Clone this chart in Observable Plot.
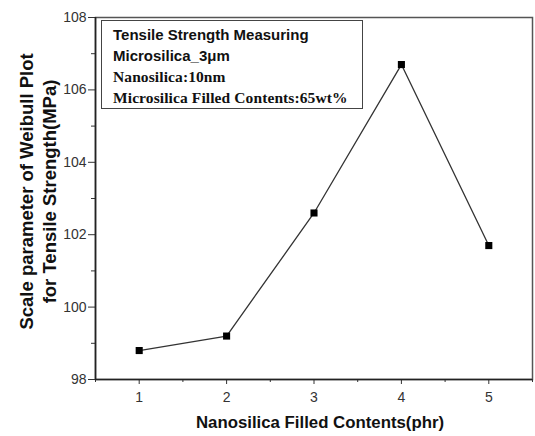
<!DOCTYPE html>
<html><head><meta charset="utf-8">
<script src="https://cdn.jsdelivr.net/npm/d3@7"></script>
<script src="https://cdn.jsdelivr.net/npm/@observablehq/plot@0.6"></script>
<style>
body{margin:0;background:#fff;}
#wrap{position:relative;width:535px;height:436px;overflow:hidden;}
#legend{position:absolute;left:101px;top:20px;width:249px;height:84px;border:1.5px solid #444;background:#fff;padding:3px 0 0 11px;box-sizing:content-box;}
#legend div{line-height:21px;height:21px;white-space:nowrap;color:#111;font-weight:bold;}
.sans{font-family:"Liberation Sans",Arial,sans-serif;font-size:15px;}
.serif{font-family:"Liberation Serif","Times New Roman",serif;font-size:15.5px;letter-spacing:0.1px;}
</style>
</head><body>
<div id="wrap"><div id="legend"></div></div>
<script>
const contents = [1, 2, 3, 4, 5];
const scaleParam = [98.8, 99.2, 102.6, 106.7, 101.7];
const xTicks = [1, 2, 3, 4, 5];
const xMinor = [0.5, 1.5, 2.5, 3.5, 4.5, 5.5];
const yTicks = [98, 100, 102, 104, 106, 108];
const yMinor = [99, 101, 103, 105, 107];
const legendLines = [
  ["Tensile Strength Measuring", "sans"],
  ["Microsilica_3\u03bcm", "sans"],
  ["Nanosilica:10nm", "serif"],
  ["Microsilica Filled Contents:65wt%", "serif"]
];
const xTitle = "Nanosilica Filled Contents(phr)";
const yTitle = "Scale parameter of Weibull Plot\nfor Tensile Strength(MPa)";

const data = contents.map((x, i) => ({x, y: scaleParam[i]}));

const chart = Plot.plot({
  width: 535, height: 436,
  marginLeft: 95, marginRight: 3, marginTop: 17, marginBottom: 57,
  style: {fontFamily: "'Liberation Sans', Arial, sans-serif", fontSize: "14px", background: "#fff", color: "#333"},
  x: {domain: [0.5, 5.5]},
  y: {domain: [98, 108]},
  marks: [
    Plot.frame({stroke: "#555", strokeWidth: 1.5}),
    Plot.axisX({ticks: xTicks, tickFormat: d => String(d), tickSize: 5, tickPadding: 8, label: null, fontSize: 14, stroke: "#333"}),
    Plot.axisX({ticks: xMinor, tickSize: 3, text: null, label: null, stroke: "#333"}),
    Plot.axisY({ticks: yTicks, tickFormat: d => String(d), tickSize: 7, tickPadding: 2, label: null, fontSize: 14, stroke: "#333"}),
    Plot.axisY({ticks: yMinor, tickSize: 4, text: null, label: null, stroke: "#333"}),
    Plot.ruleX([0.5], {stroke: "#222", strokeWidth: 1.6}),
    Plot.ruleY([98], {stroke: "#222", strokeWidth: 1.6}),
    Plot.line(data, {x: "x", y: "y", stroke: "#333", strokeWidth: 1.3}),
    Plot.dot(data, {x: "x", y: "y", symbol: "square", r: 4, fill: "#000", stroke: "none"}),
    Plot.text([yTitle], {frameAnchor: "left", textAnchor: "middle", lineAnchor: "middle", rotate: -90, dx: -58, dy: -7, fontWeight: "bold", fontSize: 18.5, lineHeight: 1.25, fill: "#111"}),
    Plot.text([xTitle], {frameAnchor: "bottom", lineAnchor: "middle", dx: 6, dy: 43, fontWeight: "bold", fontSize: 16.8, fill: "#111"})
  ]
});
document.getElementById("wrap").prepend(chart);
const leg = document.getElementById("legend");
legendLines.forEach(([t, c]) => {
  const d = document.createElement("div");
  d.className = c;
  d.textContent = t;
  leg.appendChild(d);
});
</script>
</body></html>
